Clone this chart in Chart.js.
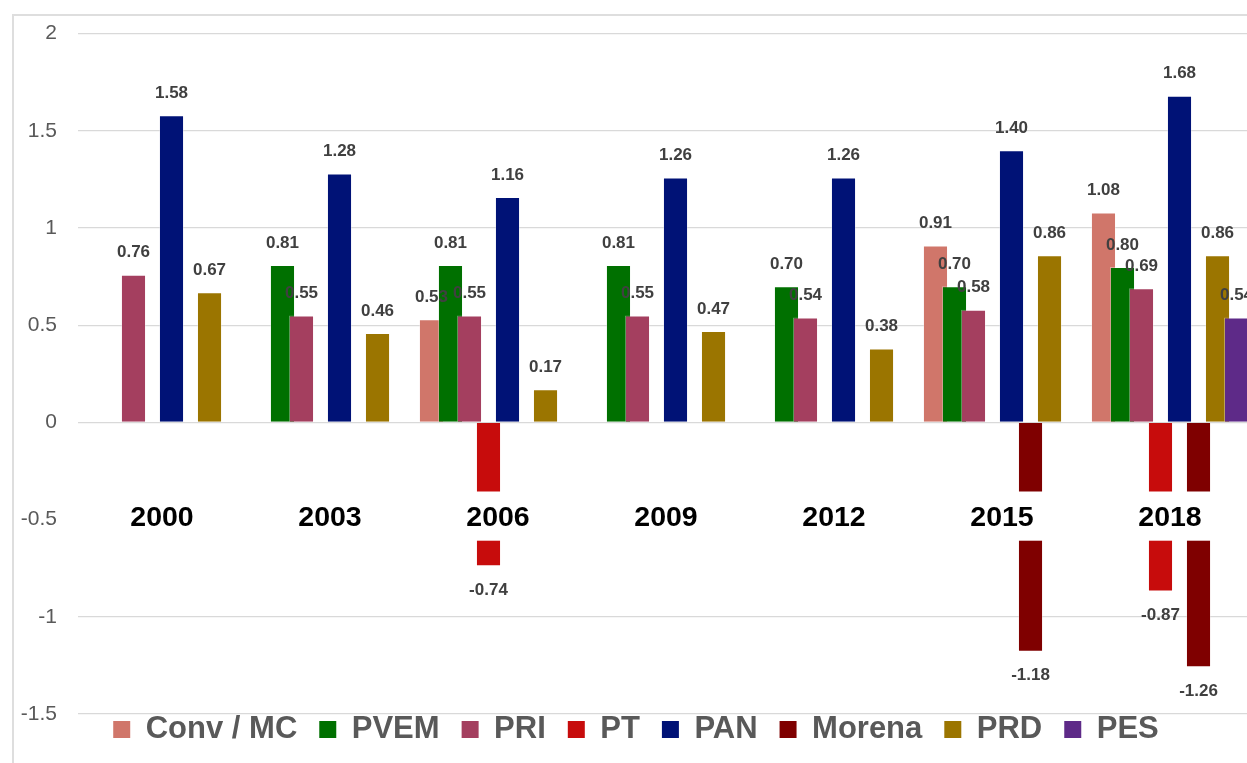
<!DOCTYPE html>
<html>
<head>
<meta charset="utf-8">
<script src="https://cdn.jsdelivr.net/npm/chart.js"></script>
<style>
  html, body { margin: 0; padding: 0; background: #ffffff; overflow: hidden; width: 1247px; height: 763px; }
  #frame { position: absolute; left: 12px; top: 14px; width: 2000px; height: 2000px; border-left: 2px solid #dedede; border-top: 2px solid #dedede; }
  #c { position: absolute; left: 0; top: 0; }
</style>
</head>
<body>
<div id="frame"></div>
<canvas id="c" width="1254" height="763"></canvas>
<script>
// ---- data ----
const years = ['2000', '2003', '2006', '2009', '2012', '2015', '2018'];
const seriesNames = ['Conv / MC', 'PVEM', 'PRI', 'PT', 'PAN', 'Morena', 'PRD', 'PES'];
const convMC = [null, null, 0.53, null, null, 0.91, 1.08];
const pvem   = [null, 0.81, 0.81, 0.81, 0.70, 0.70, 0.80];
const pri    = [0.76, 0.55, 0.55, 0.55, 0.54, 0.58, 0.69];
const pt     = [null, null, -0.74, null, null, null, -0.87];
const pan    = [1.58, 1.28, 1.16, 1.26, 1.26, 1.40, 1.68];
const morena = [null, null, null, null, null, -1.18, -1.26];
const prd    = [0.67, 0.46, 0.17, 0.47, 0.38, 0.86, 0.86];
const pes    = [null, null, null, null, null, null, 0.54];
const yMin = -1.5, yMax = 2, yStep = 0.5;
const categoryAxisAt = -0.5;

// ---- styles ----
const seriesValues = [convMC, pvem, pri, pt, pan, morena, prd, pes];
const seriesColors = ['#D0766A', '#007000', '#A43F5F', '#C70C0C', '#001276', '#7F0000', '#9B7500', '#5E2A88'];
const FONT = '"Liberation Sans", Arial, sans-serif';
Chart.defaults.font.family = FONT;

function drawValueLabels(chart) {
  const ctx = chart.ctx;
  ctx.save();
  ctx.font = 'bold 17px ' + FONT;
  ctx.fillStyle = '#404040';
  ctx.textAlign = 'center';
  ctx.textBaseline = 'middle';
  chart.data.datasets.forEach((ds, di) => {
    const meta = chart.getDatasetMeta(di);
    meta.data.forEach((el, i) => {
      const v = ds.data[i];
      if (v === null || v === undefined) return;
      const y = v >= 0 ? el.y - 22 : el.y + 24;
      ctx.fillText(v.toFixed(2), el.x, y);
    });
  });
  ctx.restore();
}

// later series drawn on top of earlier ones (as in the original)
const drawOrderPlugin = {
  id: 'drawOrder',
  beforeDatasetsDraw(chart) {
    const ctx = chart.ctx, a = chart.chartArea;
    ctx.save();
    ctx.beginPath();
    ctx.rect(a.left, a.top, a.right - a.left, a.bottom - a.top);
    ctx.clip();
    chart.getSortedVisibleDatasetMetas().forEach(m => m.controller.draw());
    ctx.restore();
    drawValueLabels(chart);
    return false;
  }
};

const legendNudge = {
  id: 'legendNudge',
  afterLayout(chart) {
    if (chart.legend) { chart.legend.top -= 22; chart.legend.bottom -= 22; }
  }
};

new Chart(document.getElementById('c'), {
  type: 'bar',
  data: {
    labels: years,
    datasets: seriesNames.map((name, i) => ({
      label: name,
      data: seriesValues[i],
      backgroundColor: seriesColors[i],
      borderColor: 'rgba(255,255,255,0.35)',
      borderWidth: 1,
      categoryPercentage: 0.905,
      barPercentage: 1.32
    }))
  },
  options: {
    responsive: false,
    animation: false,
    layout: { padding: { left: 18, top: 33, right: 0, bottom: 0 } },
    plugins: {
      tooltip: { enabled: false },
      legend: {
        position: 'bottom',
        maxHeight: 49,
        labels: {
          boxWidth: 17,
          boxHeight: 17,
          padding: 22,
          color: '#595959',
          font: { family: FONT, size: 31, weight: 'bold' },
          generateLabels(chart) {
            const items = Chart.defaults.plugins.legend.labels.generateLabels(chart);
            items.forEach(it => { it.lineWidth = 0; it.strokeStyle = 'rgba(0,0,0,0)'; });
            return items;
          }
        }
      }
    },
    scales: {
      x: {
        position: { y: categoryAxisAt },
        offset: true,
        grid: { display: false, drawTicks: false },
        border: { display: false },
        ticks: {
          z: 1,
          color: '#000000',
          font: { family: FONT, size: 28.5, weight: 'bold' },
          padding: -1,
          crossAlign: 'center',
          maxRotation: 0,
          autoSkip: false,
          showLabelBackdrop: true,
          backdropColor: '#ffffff',
          backdropPadding: { top: 10, bottom: 5, left: 16, right: 16 }
        }
      },
      y: {
        min: yMin,
        max: yMax,
        ticks: {
          stepSize: yStep,
          color: '#595959',
          font: { family: FONT, size: 21 },
          padding: 21,
          callback: (v) => String(v)
        },
        grid: {
          color: (c) => (c.tick && c.tick.value === categoryAxisAt) ? 'rgba(0,0,0,0)' : '#d9d9d9',
          lineWidth: 1.3,
          drawTicks: false
        },
        border: { display: false },
        afterFit(scale) { scale.width = 60; }
      }
    }
  },
  plugins: [drawOrderPlugin, legendNudge]
});
</script>
</body>
</html>
